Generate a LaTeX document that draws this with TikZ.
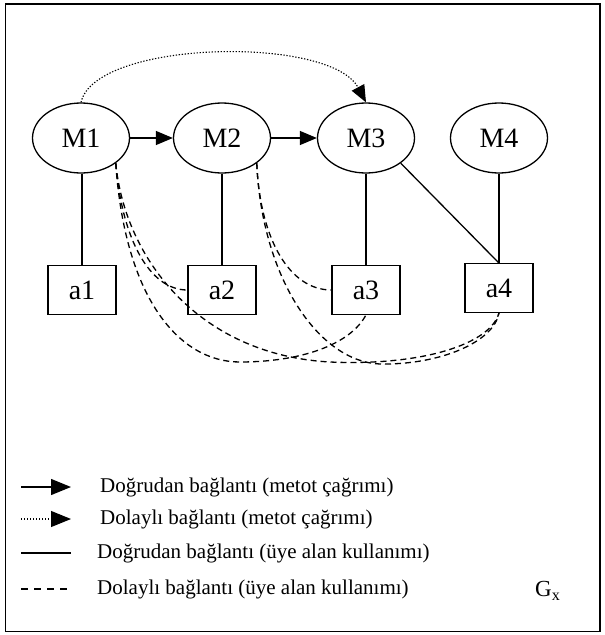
\documentclass[tikz,border=0pt]{standalone}
\usepackage{fontspec}
\setmainfont{Liberation Serif}
\usetikzlibrary{arrows.meta,shapes.geometric}
\begin{document}
\begin{tikzpicture}[x=1pt,y=-1pt,
  meth/.style={draw,ellipse,line width=1.3pt,minimum width=97pt,minimum height=70pt,inner sep=0pt,font=\fontsize{28}{32}\selectfont},
  attr/.style={draw,rectangle,line width=1.3pt,minimum width=68pt,minimum height=48.5pt,inner sep=0pt,font=\fontsize{28}{32}\selectfont},
  call/.style={line width=1.3pt,-{Triangle[length=17pt,width=14pt]}},
  icall/.style={line width=1.1pt,dash pattern=on 1.3pt off 1.7pt,-{Triangle[length=17pt,width=14pt]}},
  bigtip/.style={-{Triangle[length=20pt,width=16pt]}},
  use/.style={line width=1.3pt},
  iuse/.style={line width=1.3pt,dash pattern=on 6pt off 4pt},
  legtext/.style={anchor=west,inner sep=0pt,font=\fontsize{21}{24}\selectfont}]
\useasboundingbox (0,0) rectangle (605,635);
\draw[line width=1.5pt] (5.5,4) rectangle (600,631.5);
% methods
\node[meth] (M1) at (81,138) {M1};
\node[meth] (M2) at (222,138) {M2};
\node[meth] (M3) at (366,138) {M3};
\node[meth] (M4) at (499,138) {M4};
% attributes
\node[attr] (a1) at (82,290) {a1};
\node[attr] (a2) at (222,290) {a2};
\node[attr] (a3) at (366,290) {a3};
\node[attr] (a4) at (499,288) {a4};
% direct calls
\draw[call] (M1) -- (M2);
\draw[call] (M2) -- (M3);
% indirect call
\draw[icall] (M1.north) .. controls (95,40) and (330,35) .. (M3.north);
% direct uses
\draw[use] (M1.south -| a1.north) -- (a1.north);
\draw[use] (M2.south) -- (a2.north);
\draw[use] (M3.south) -- (a3.north);
\draw[use] (M4.south) -- (a4.north);
\draw[use] (M3.south east) -- (a4.north);
% indirect uses
\draw[iuse] (M1.south east) .. controls (122,240) and (150,290) .. (a2.west);
\draw[iuse] (M1.south east) .. controls (125,300) and (180,362) .. (240,362) .. controls (300,362) and (350,345) .. (a3.south);
\draw[iuse] (M1.south east) .. controls (125,260) and (200,355) .. (330,362) .. controls (420,366) and (490,345) .. (a4.south);
\draw[iuse] (M2.south east) .. controls (260,240) and (290,290) .. (a3.west);
\draw[iuse] (M2.south east) .. controls (262,280) and (320,362) .. (380,364) .. controls (440,365) and (494,342) .. (a4.south);
% legend
\coordinate (l1a) at (21,487); \coordinate (l1b) at (71,487);
\coordinate (l2a) at (21,519); \coordinate (l2b) at (71,519);
\coordinate (l3a) at (21,553); \coordinate (l3b) at (71,553);
\coordinate (l4a) at (21,589); \coordinate (l4b) at (71,589);
\draw[call,bigtip] (l1a) -- (l1b);
\draw[icall,bigtip] (l2a) -- (l2b);
\draw[use] (l3a) -- (l3b);
\draw[iuse,dash pattern=on 7pt off 6pt] (l4a) -- (l4b);
\node[legtext] (t1) at (100,487) {Doğrudan bağlantı (metot çağrımı)};
\node[legtext] (t2) at (100,519) {Dolaylı bağlantı (metot çağrımı)};
\node[legtext] (t3) at (97,553) {Doğrudan bağlantı (üye alan kullanımı)};
\node[legtext] (t4) at (97,589) {Dolaylı bağlantı (üye alan kullanımı)};
\node[legtext,font=\fontsize{23}{26}\selectfont] (gx) at (535,591) {G\textsubscript{x}};
\end{tikzpicture}
\end{document}
